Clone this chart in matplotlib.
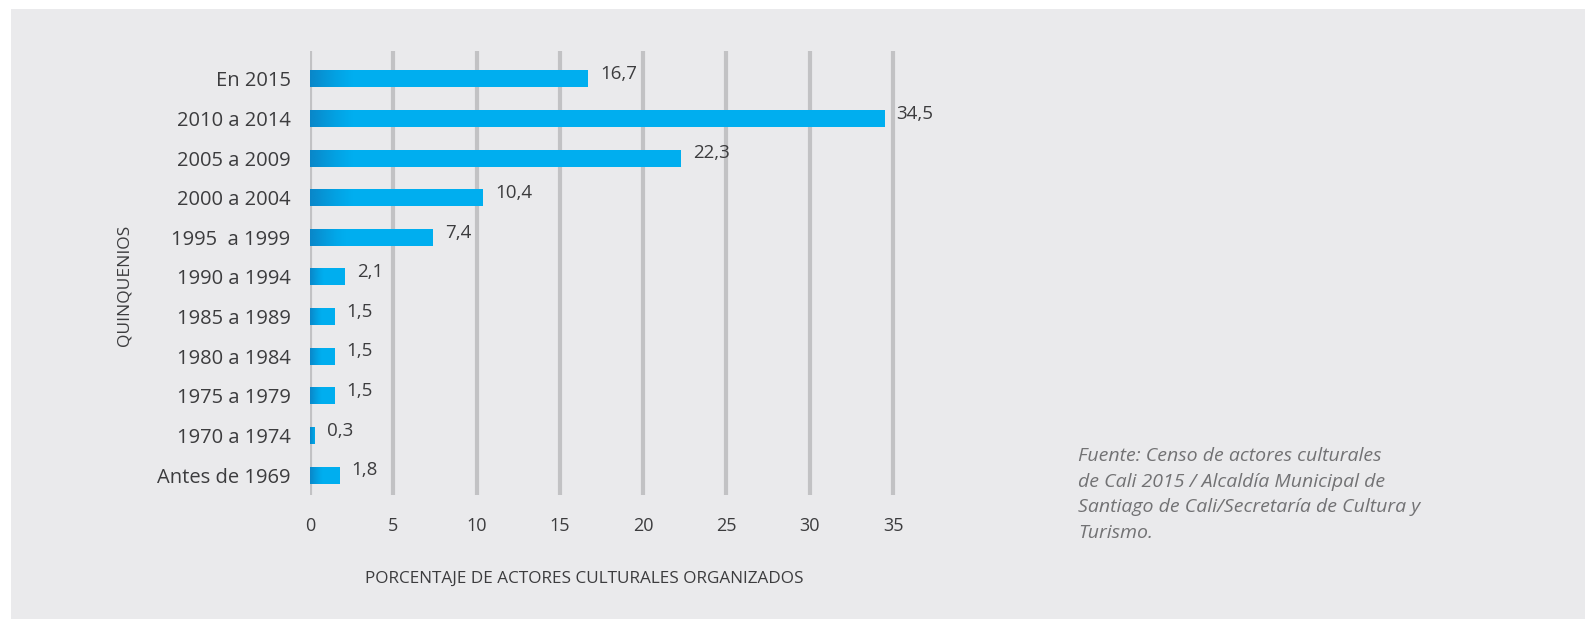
import numpy as np
import matplotlib
matplotlib.use('Agg')
import matplotlib.pyplot as plt
import matplotlib.patches as patches

# Quinquenios de creación de las organizaciones (de arriba hacia abajo)
quinquenios = ['En 2015', '2010 a 2014', '2005 a 2009', '2000 a 2004',
               '1995  a 1999', '1990 a 1994', '1985 a 1989', '1980 a 1984',
               '1975 a 1979', '1970 a 1974', 'Antes de 1969']
porcentajes = [16.7, 34.5, 22.3, 10.4, 7.4, 2.1, 1.5, 1.5, 1.5, 0.3, 1.8]
ticks_x = [0, 5, 10, 15, 20, 25, 30, 35]

fuente = ('Fuente: Censo de actores culturales\n'
          'de Cali 2015 / Alcaldía Municipal de\n'
          'Santiago de Cali/Secretaría de Cultura y\n'
          'Turismo.')

FONDO = '#eaeaec'
AZUL = '#00aeef'
AZUL_OSCURO = '#0a86c8'
GRIS_GRID = '#c2c2c4'
TEXTO = '#3c3c3e'

plt.rcParams['font.family'] = ['Open Sans', 'DejaVu Sans']

W, H = 1585, 619
fig = plt.figure(figsize=(W / 100, H / 100), dpi=100, facecolor='white')
# panel gris con un pequeño margen blanco arriba y a la izquierda
fig.patches.append(patches.Rectangle((11 / W, 0), 1 - 11 / W, 1 - 9 / H,
                                     transform=fig.transFigure,
                                     facecolor=FONDO, edgecolor='none', zorder=-1))

px_unidad = (893 - 310) / 35.0
x0 = 310 / W
ancho = 40 * px_unidad / W
ax = fig.add_axes([x0, 1 - 495 / H, ancho, (495 - 51) / H])
ax.set_facecolor('none')
ax.set_zorder(1)

n = len(quinquenios)
ys = np.arange(n)[::-1]
alto = 0.43

for xt in ticks_x:
    ax.axvline(xt, color=GRIS_GRID, lw=3, zorder=1)

bars = ax.barh(ys, porcentajes, height=alto, color=AZUL, zorder=2)

# degradado oscuro en el arranque de cada barra
grad = np.zeros((1, 256, 4))
r, g, b = matplotlib.colors.to_rgb(AZUL_OSCURO)
grad[..., 0], grad[..., 1], grad[..., 2] = r, g, b
grad[..., 3] = np.linspace(1, 0, 256) ** 1.3
for bar, v in zip(bars, porcentajes):
    yb = bar.get_y()
    largo = min(2.6, 0.25 * v + 0.3)
    im = ax.imshow(grad, extent=(0, largo, yb, yb + alto), aspect='auto',
                   interpolation='bilinear', zorder=3)
    im.set_clip_path(bar)

for y, v in zip(ys, porcentajes):
    ax.text(v + 0.7, y + 0.12, f'{v:.1f}'.replace('.', ','), ha='left',
            va='center', fontsize=13.5, color=TEXTO, zorder=4)

ax.set_xlim(0, 40)
ax.set_ylim(-0.5, 10.7)
ax.set_yticks(ys)
ax.set_yticklabels(quinquenios, fontsize=14.5, color=TEXTO)
ax.set_xticks(ticks_x)
ax.set_xticklabels([str(t) for t in ticks_x], fontsize=13, color=TEXTO)
ax.tick_params(axis='y', length=0, pad=14)
ax.tick_params(axis='x', length=0, pad=16)
for s in ax.spines.values():
    s.set_visible(False)

fig.text(125 / W, 1 - 285 / H, 'QUINQUENIOS', rotation=90, ha='center',
         va='center', fontsize=12.5, color=TEXTO)
fig.text(365 / W, 1 - 579 / H, 'PORCENTAJE DE ACTORES CULTURALES ORGANIZADOS',
         ha='left', va='center', fontsize=12.3, color=TEXTO)

fig.text(1078 / W, 1 - 447 / H, fuente, ha='left', va='top', fontsize=14,
         style='italic', color='#727274', linespacing=1.55)

fig.savefig('out.png', dpi=100, facecolor=fig.get_facecolor())
